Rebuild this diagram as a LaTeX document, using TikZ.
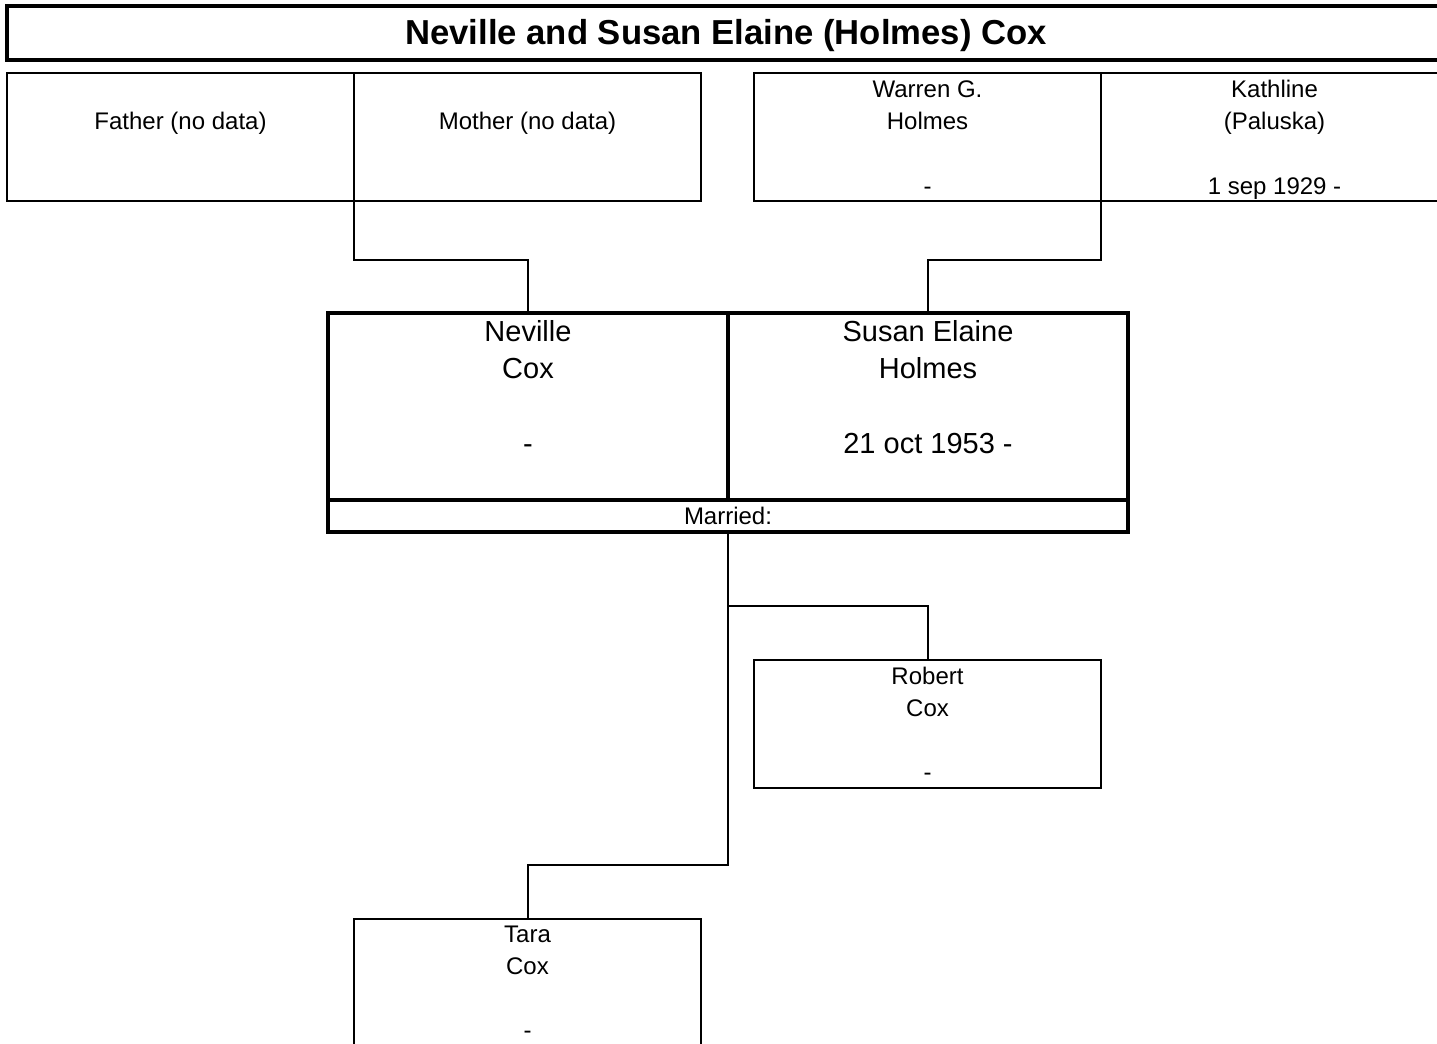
\documentclass[tikz,border=0pt]{standalone}
\usepackage{fontspec}
\setmainfont{Liberation Sans}
\begin{document}
\begin{tikzpicture}[x=0.75pt,y=-0.75pt]
\tikzset{
  pbox/.style={draw, line width=1.5pt, anchor=north west, minimum width=260.25pt, minimum height=96pt, inner sep=0pt, outer sep=0pt},
  bigbox/.style={draw, line width=2.6pt, anchor=north west, minimum width=300pt, minimum height=140.25pt, inner sep=0pt, outer sep=0pt},
  sm/.style={anchor=base, inner sep=0pt, font=\fontsize{18}{22}\selectfont},
  lg/.style={anchor=base, inner sep=0pt, font=\fontsize{21.75}{26}\selectfont},
  conn/.style={line width=1.5pt},
}
\clip (0,0) rectangle (1437,1044);
% title
\node[draw, line width=2.6pt, anchor=north west, minimum width=1087.5pt, minimum height=40.5pt, inner sep=0pt, outer sep=0pt] (title) at (7,6) {};
\node[anchor=base, inner sep=0pt, font=\fontsize{26}{30}\selectfont\bfseries] (titletext) at (726,45) {Neville and Susan Elaine (Holmes) Cox};
% grandparents
\node[pbox] (fa) at (7,73) {};
\node[pbox] (mo) at (354,73) {};
\node[pbox] (wa) at (754,73) {};
\node[pbox] (ka) at (1101,73) {};
\node[sm] (fat) at (180.5,129.5) {Father (no data)};
\node[sm] (mot) at (527.5,129.5) {Mother (no data)};
\node[sm] (wat1) at (927.5,97.5) {Warren G.};
\node[sm] (wat2) at (927.5,129.5) {Holmes};
\node[sm] (wat3) at (927.5,194.5) {-};
\node[sm] (kat1) at (1274.5,97.5) {Kathline};
\node[sm] (kat2) at (1274.5,129.5) {(Paluska)};
\node[sm] (kat3) at (1274.5,194.5) {1 sep 1929 -};
% couple
\node[bigbox] (ne) at (328,313) {};
\node[bigbox] (su) at (728,313) {};
\node[draw, line width=2.6pt, anchor=north west, minimum width=600pt, minimum height=24pt, inner sep=0pt, outer sep=0pt] (mar) at (328,500) {};
\node[lg] (net1) at (528,341.5) {Neville};
\node[lg] (net2) at (528,378.5) {Cox};
\node[lg] (net3) at (528,453.5) {-};
\node[lg] (sut1) at (928,341.5) {Susan Elaine};
\node[lg] (sut2) at (928,378.5) {Holmes};
\node[lg] (sut3) at (928,453.5) {21 oct 1953 -};
\node[sm] (mart) at (728,524.5) {Married:};
% children
\node[pbox] (ro) at (754,660) {};
\node[pbox] (ta) at (354,919) {};
\node[sm] (rot1) at (927.5,684.5) {Robert};
\node[sm] (rot2) at (927.5,716.5) {Cox};
\node[sm] (rot3) at (927.5,780.5) {-};
\node[sm] (tat1) at (527.5,942.5) {Tara};
\node[sm] (tat2) at (527.5,974.5) {Cox};
\node[sm] (tat3) at (527.5,1038.5) {-};
% connectors
\coordinate (g1) at (354,260);
\coordinate (g2) at (1101,260);
\coordinate (j1) at (728,606);
\coordinate (j2) at (728,865);
\draw[conn] (fa.south east) -- (g1) -| (ne.north);
\draw[conn] (wa.south east) -- (g2) -| (su.north);
\draw[conn] (mar.south) -- (j2) -| (ta.north);
\draw[conn] (j1) -| (ro.north);
\end{tikzpicture}
\end{document}
